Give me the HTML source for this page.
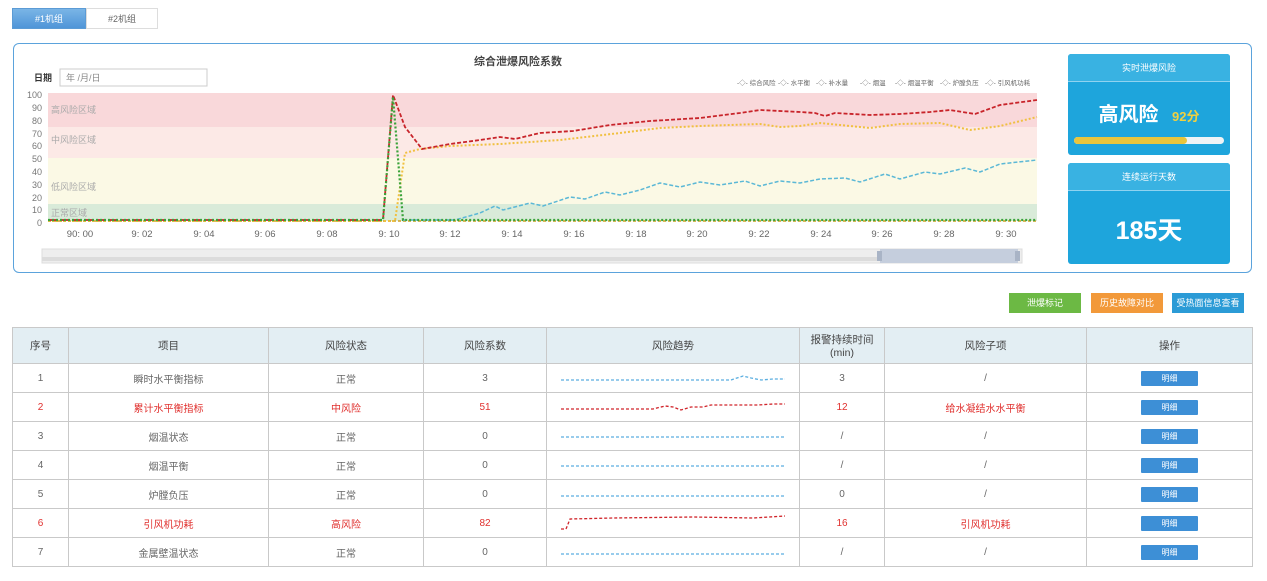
<!DOCTYPE html>
<html><head><meta charset="utf-8">
<style>
*{margin:0;padding:0;box-sizing:border-box}
body{width:1267px;height:581px;background:#fff;font-family:"Liberation Sans","Noto Sans CJK SC",sans-serif;position:relative;overflow:hidden;color:#555}
.abs{position:absolute}
.tab{position:absolute;top:8px;height:21px;font-size:9px;text-align:center;line-height:21px}
.panel{position:absolute;left:1068px;width:162px;background:#1ea5dc;border-radius:3px;color:#fff;text-align:center}
.ph{height:28px;line-height:28px;font-size:9px;background:#39b2e2;border-bottom:1px solid #8fd3f0;border-radius:3px 3px 0 0}
.btn{position:absolute;top:293px;height:20px;line-height:20px;font-size:9px;color:#fff;text-align:center}
table{position:absolute;left:12px;top:327px;width:1241px;border-collapse:collapse;font-size:10px}
td,th{border:1px solid #c9c9c9;text-align:center;color:#666;font-weight:normal}
th{background:#e3eef3;height:36px;color:#444;font-size:10.5px}
td{height:29px}
tr.r td{color:#e0302e}
.mx{display:inline-block;width:57px;height:15px;background:#3d8fd6;color:#fff;font-size:8px;line-height:15px;border-radius:1px}
</style></head><body>
<div class="tab" style="left:12px;width:74px;background:linear-gradient(#7ab5e6,#4f95d8);color:#fff;border:1px solid #5b9bd5">#1机组</div>
<div class="tab" style="left:86px;width:72px;border:1px solid #ddd;color:#666">#2机组</div>

<div class="abs" style="left:13px;top:43px;width:1239px;height:230px;border:1.5px solid #5ba3dc;border-radius:6px"></div>

<svg class="abs" style="left:0;top:0" width="1060" height="275">
<text x="518" y="65" font-size="11" font-weight="bold" fill="#444" text-anchor="middle">综合泄爆风险系数</text>
<text x="34" y="81" font-size="9" font-weight="bold" fill="#333">日期</text>
<rect x="60" y="69" width="147" height="17" fill="#fff" stroke="#ccc"/>
<text x="66" y="81" font-size="9" fill="#888">年 /月/日</text>
<g font-size="6.5" fill="#666">
<text x="737" y="85">-◇- 综合风险</text><text x="778" y="85">-◇- 水平衡</text><text x="816" y="85">-◇- 补水量</text><text x="860" y="85">-◇- 烟温</text><text x="895" y="85">-◇- 烟温平衡</text><text x="940" y="85">-◇- 炉膛负压</text><text x="985" y="85">-◇- 引风机功耗</text>
</g>
<rect x="48" y="93" width="989" height="34" fill="#f9d8da"/>
<rect x="48" y="127" width="989" height="31" fill="#fce9e6"/>
<rect x="48" y="158" width="989" height="46" fill="#fbf9e5"/>
<rect x="48" y="204" width="989" height="17" fill="#d9ebd9"/>
<g font-size="9" fill="#aaa">
<text x="51" y="113">高风险区域</text><text x="51" y="143">中风险区域</text><text x="51" y="190">低风险区域</text><text x="51" y="216">正常区域</text>
</g>
<g font-size="9" fill="#777" text-anchor="end">
<text x="42" y="98">100</text><text x="42" y="111">90</text><text x="42" y="124">80</text><text x="42" y="137">70</text><text x="42" y="149">60</text><text x="42" y="162">50</text><text x="42" y="175">40</text><text x="42" y="188">30</text><text x="42" y="201">20</text><text x="42" y="213">10</text><text x="42" y="226">0</text>
</g>
<g font-size="9.5" fill="#666" text-anchor="middle">
<text x="80" y="237">90: 00</text><text x="142" y="237">9: 02</text><text x="204" y="237">9: 04</text><text x="265" y="237">9: 06</text><text x="327" y="237">9: 08</text><text x="389" y="237">9: 10</text><text x="450" y="237">9: 12</text><text x="512" y="237">9: 14</text><text x="574" y="237">9: 16</text><text x="636" y="237">9: 18</text><text x="697" y="237">9: 20</text><text x="759" y="237">9: 22</text><text x="821" y="237">9: 24</text><text x="882" y="237">9: 26</text><text x="944" y="237">9: 28</text><text x="1006" y="237">9: 30</text>
</g>
<rect x="42" y="249" width="980" height="14" fill="#eeeeee" stroke="#ddd"/>
<rect x="42" y="257" width="840" height="4" fill="#dcdcdc"/>
<rect x="880" y="249" width="138" height="14" fill="#c5cedd"/>
<rect x="877" y="251" width="5" height="10" fill="#a9b4c6"/><rect x="1015" y="251" width="5" height="10" fill="#a9b4c6"/>
<polyline fill="none" stroke="#d0a020" stroke-width="1.5" points="48,221 1037,221" stroke-dasharray="3,2"/>
<polyline fill="none" stroke="#5bb8d6" stroke-width="1.5" stroke-dasharray="4,2" points="403,220 455,220 480,213 495,206 503,210 530,203 543,206 570,197 585,199 605,192 620,195 640,190 660,183 680,187 700,182 720,185 745,181 760,186 780,181 800,183 820,179 845,178 860,182 885,174 900,179 925,172 940,174 965,168 980,172 1000,164 1037,160"/>
<polyline fill="none" stroke="#f0c040" stroke-width="2" stroke-dasharray="2,2" points="48,221 395,221 405,153 420,149 450,146 500,144 560,140 620,133 660,128 700,126 760,124 780,127 800,126 820,123 870,128 900,124 940,123 970,130 1000,126 1037,117"/>
<polyline fill="none" stroke="#c8242a" stroke-width="1.8" stroke-dasharray="4,2" points="48,220 383,220 393,95 405,127 422,149 450,144 480,140 500,137 515,139 540,133 573,131 610,125 650,121 700,118 740,113 760,110 800,112 815,113 825,116 835,113 870,115 900,114 930,112 950,110 975,114 1000,105 1037,100"/>
<polyline fill="none" stroke="#3aa33a" stroke-width="2.2" stroke-dasharray="2,2" points="48,220 383,220 393,97 403,220 1037,220"/>
</svg>

<div class="panel" style="top:54px;height:101px"><div class="ph">实时泄爆风险</div>
<div style="margin-top:16px;font-size:20px;font-weight:bold">高风险 <span style="font-size:13px;color:#f0d040;margin-left:8px">92分</span></div>
<div style="margin:10px 6px 0 6px;height:7px;background:#eef3f6;border-radius:4px"><div style="width:75%;height:7px;background:#e9c53c;border-radius:4px"></div></div></div>
<div class="panel" style="top:163px;height:101px"><div class="ph">连续运行天数</div>
<div style="margin-top:20px;font-size:25px;font-weight:bold">185天</div></div>

<div class="btn" style="left:1009px;width:72px;background:#6cb944">泄爆标记</div>
<div class="btn" style="left:1091px;width:72px;background:#f2993a">历史故障对比</div>
<div class="btn" style="left:1172px;width:72px;background:#2b9bd6">受热面信息查看</div>

<table>
<tr><th style="width:56px">序号</th><th style="width:200px">项目</th><th style="width:155px">风险状态</th><th style="width:123px">风险系数</th><th style="width:253px">风险趋势</th><th style="width:85px">报警持续时间<br>(min)</th><th style="width:202px">风险子项</th><th>操作</th></tr>
<tr><td>1</td><td>瞬时水平衡指标</td><td>正常</td><td>3</td><td><svg width="240" height="14"><polyline fill="none" stroke="#5aaee0" stroke-width="1.3" stroke-dasharray="3,2" points="8,10 178,10 190,6 198,8 208,10 220,9 232,9"/></svg></td><td>3</td><td>/</td><td><span class="mx">明细</span></td></tr>
<tr class="r"><td>2</td><td>累计水平衡指标</td><td>中风险</td><td>51</td><td><svg width="240" height="14"><polyline fill="none" stroke="#d0242a" stroke-width="1.3" stroke-dasharray="3,2" points="8,10 100,10 112,7 120,8 128,11 138,8 150,8 158,6 170,6 190,6 205,6 220,5 232,5"/></svg></td><td>12</td><td>给水凝结水水平衡</td><td><span class="mx">明细</span></td></tr>
<tr><td>3</td><td>烟温状态</td><td>正常</td><td>0</td><td><svg width="240" height="14"><line x1="8" y1="9" x2="232" y2="9" stroke="#5aaee0" stroke-width="1.3" stroke-dasharray="3,2"/></svg></td><td>/</td><td>/</td><td><span class="mx">明细</span></td></tr>
<tr><td>4</td><td>烟温平衡</td><td>正常</td><td>0</td><td><svg width="240" height="14"><line x1="8" y1="9" x2="232" y2="9" stroke="#5aaee0" stroke-width="1.3" stroke-dasharray="3,2"/></svg></td><td>/</td><td>/</td><td><span class="mx">明细</span></td></tr>
<tr><td>5</td><td>炉膛负压</td><td>正常</td><td>0</td><td><svg width="240" height="14"><line x1="8" y1="10" x2="232" y2="10" stroke="#5aaee0" stroke-width="1.3" stroke-dasharray="3,2"/></svg></td><td>0</td><td>/</td><td><span class="mx">明细</span></td></tr>
<tr class="r"><td>6</td><td>引风机功耗</td><td>高风险</td><td>82</td><td><svg width="240" height="18"><polyline fill="none" stroke="#d0242a" stroke-width="1.3" stroke-dasharray="3,2" points="8,16 13,16 17,6 60,5 140,4 200,5 232,3"/></svg></td><td>16</td><td>引风机功耗</td><td><span class="mx">明细</span></td></tr>
<tr><td>7</td><td>金属壁温状态</td><td>正常</td><td>0</td><td><svg width="240" height="14"><line x1="8" y1="10" x2="232" y2="10" stroke="#5aaee0" stroke-width="1.3" stroke-dasharray="3,2"/></svg></td><td>/</td><td>/</td><td><span class="mx">明细</span></td></tr>
</table>
</body></html>
